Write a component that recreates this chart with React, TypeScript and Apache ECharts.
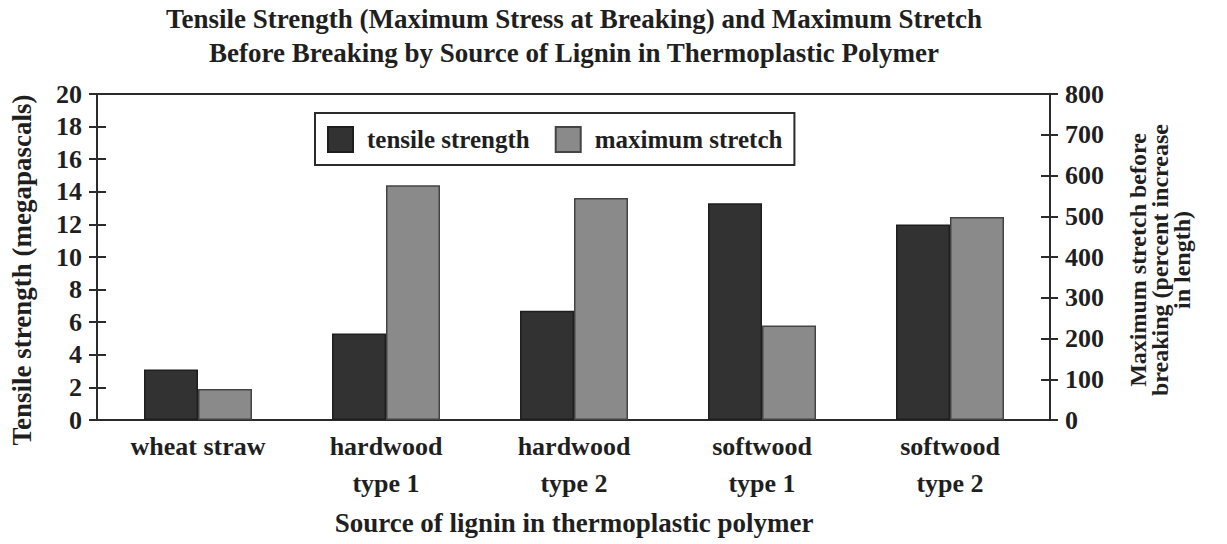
import React, { useEffect, useRef } from "react";
import * as echarts from "echarts";

const categories = ["wheat straw", "hardwood\ntype 1", "hardwood\ntype 2", "softwood\ntype 1", "softwood\ntype 2"];
const tensileStrength = [3.1, 5.3, 6.7, 13.3, 12.0];
const maximumStretch = [76, 576, 545, 232, 498];
const titleLines = [
  "Tensile Strength (Maximum Stress at Breaking) and Maximum Stretch",
  "Before Breaking by Source of Lignin in Thermoplastic Polymer",
];
const leftAxisName = "Tensile strength (megapascals)";
const rightAxisName = "Maximum stretch before\nbreaking (percent increase\nin length)";
const xAxisName = "Source of lignin in thermoplastic polymer";

const FONT = "'Liberation Serif', 'DejaVu Serif', serif";
const INK = "#2b2b2b";
const TXT = "#1f1f1f";

export default function App() {
  const ref = useRef<HTMLDivElement>(null);
  useEffect(() => {
    document.body.style.margin = "0";
    const chart = echarts.init(ref.current!, null, { renderer: "svg" });
    const axisLine = { show: true, lineStyle: { color: INK, width: 2 } };
    const leftRange = { type: "value", min: 0, max: 20, interval: 2, splitLine: { show: false } };
    const rightRange = { type: "value", min: 0, max: 800, interval: 100, splitLine: { show: false } };
    const tickLabel = { fontFamily: FONT, fontSize: 26, fontWeight: "bold", color: TXT, margin: 15 };
    chart.setOption({
      animation: false,
      backgroundColor: "#ffffff",
      textStyle: { fontFamily: FONT },
      graphic: [
        ...titleLines.map((t, i) => ({
          type: "text",
          x: 574,
          y: 5 + i * 34,
          style: {
            text: t,
            textAlign: "center",
            textVerticalAlign: "top",
            font: `bold 27px ${FONT}`,
            fill: TXT,
          },
        })),
        {
          type: "text",
          x: 22,
          y: 270,
          rotation: Math.PI / 2,
          style: {
            text: leftAxisName,
            textAlign: "center",
            textVerticalAlign: "middle",
            font: `bold 27px ${FONT}`,
            fill: TXT,
          },
        },
        {
          type: "text",
          x: 1160,
          y: 260,
          rotation: Math.PI / 2,
          style: {
            text: rightAxisName,
            textAlign: "center",
            textVerticalAlign: "middle",
            font: `bold 24px ${FONT}`,
            lineHeight: 22,
            fill: TXT,
          },
        },
      ],
      legend: {
        left: 315,
        top: 113,
        padding: [13, 12, 12, 12],
        borderColor: INK,
        borderWidth: 2,
        itemWidth: 25,
        itemHeight: 25,
        itemGap: 25,
        icon: "rect",
        textStyle: { fontFamily: FONT, fontSize: 25, fontWeight: "bold", color: TXT, padding: [0, 0, 0, 9] },
        data: ["tensile strength", "maximum stretch"],
      },
      grid: [
        { left: 97, right: 177, top: 94, bottom: 124, show: true, borderColor: INK, borderWidth: 2 },
        { left: 104, right: 183, top: 94, bottom: 124 },
      ],
      xAxis: [
        { type: "category", gridIndex: 0, data: categories, show: false },
        {
          type: "category",
          gridIndex: 1,
          data: categories,
          axisTick: { show: false },
          axisLine: { show: false },
          axisLabel: {
            fontFamily: FONT,
            fontSize: 26,
            fontWeight: "bold",
            lineHeight: 37,
            color: TXT,
            margin: 8,
          },
          name: xAxisName,
          nameLocation: "middle",
          nameGap: 89,
          nameTextStyle: { fontFamily: FONT, fontSize: 27, fontWeight: "bold", color: TXT },
        },
      ],
      yAxis: [
        {
          ...leftRange,
          gridIndex: 0,
          position: "left",
          axisLine,
          axisTick: { show: true, inside: false, length: 8, lineStyle: { color: INK, width: 2 } },
          axisLabel: tickLabel,
        },
        {
          ...rightRange,
          gridIndex: 0,
          position: "right",
          axisLine,
          axisTick: { show: true, inside: false, length: 8, lineStyle: { color: INK, width: 2 } },
          axisLabel: tickLabel,
        },
        {
          ...leftRange,
          gridIndex: 0,
          position: "left",
          axisLine,
          axisTick: { show: true, inside: true, length: 9, lineStyle: { color: INK, width: 2 } },
          axisLabel: { show: false },
        },
        {
          ...rightRange,
          gridIndex: 0,
          position: "right",
          axisLine,
          axisTick: { show: true, inside: true, length: 9, lineStyle: { color: INK, width: 2 } },
          axisLabel: { show: false },
        },
        { ...leftRange, gridIndex: 1, show: false },
        { ...rightRange, gridIndex: 1, show: false },
      ],
      series: [
        {
          name: "tensile strength",
          type: "bar",
          xAxisIndex: 1,
          yAxisIndex: 4,
          data: tensileStrength,
          barWidth: 54,
          barGap: "0%",
          itemStyle: { color: "#323232", borderColor: "#1e1e1e", borderWidth: 1.5 },
        },
        {
          name: "maximum stretch",
          type: "bar",
          xAxisIndex: 1,
          yAxisIndex: 5,
          data: maximumStretch,
          barWidth: 54,
          barGap: "0%",
          itemStyle: { color: "#8a8a8a", borderColor: "#444444", borderWidth: 1.5 },
        },
      ],
    });
    return () => chart.dispose();
  }, []);
  return <div ref={ref} style={{ width: 1227, height: 544 }} />;
}
